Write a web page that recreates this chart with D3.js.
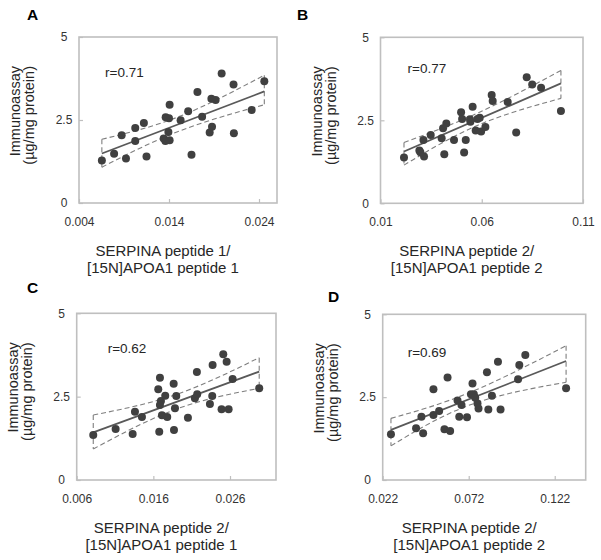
<!DOCTYPE html>
<html>
<head>
<meta charset="utf-8">
<script src="https://cdn.jsdelivr.net/npm/d3@7"></script>
<style>
  html, body { margin: 0; padding: 0; background: #fff; }
  svg { display: block; font-family: "Liberation Sans", Arial, sans-serif; }
</style>
</head>
<body>
<svg id="chart" width="601" height="560"></svg>
<script>
// ---------- data ----------
const panelLetters = ["A", "B", "C", "D"];
const rLabels = ["r=0.71", "r=0.77", "r=0.62", "r=0.69"];
const xTitles1 = ["SERPINA peptide 1/", "SERPINA peptide 2/", "SERPINA peptide 2/", "SERPINA peptide 2/"];
const xTitles2 = ["[15N]APOA1 peptide 1", "[15N]APOA1 peptide 2", "[15N]APOA1 peptide 1", "[15N]APOA1 peptide 2"];
const yTitle1 = "Immunoassay";
const yTitle2 = "(\u00b5g/mg protein)";

const yDomain = [0, 5];
const yTicks = [0, 2.5, 5];
const yTickLabels = ["0", "2.5", "5"];

// Panel A
const aXDomain = [0.004, 0.026];
const aXTicks = [0.004, 0.014, 0.024];
const aXTickLabels = ["0.004", "0.014", "0.024"];
const aX = [0.00654, 0.0079, 0.00922, 0.00874, 0.01025, 0.01025, 0.01121, 0.0115, 0.01341, 0.0136,
            0.01407, 0.01393, 0.01363, 0.0140, 0.01407, 0.01529, 0.01613, 0.0165, 0.01716, 0.01768,
            0.01852, 0.01878, 0.01871, 0.01918, 0.01985, 0.02117, 0.02121, 0.02319, 0.02459];
const aY = [1.28, 1.48, 1.34, 2.04, 1.87, 2.26, 2.41, 1.40, 1.94, 1.87,
            1.89, 2.14, 2.58, 2.55, 2.96, 2.49, 2.76, 1.45, 3.34, 2.60,
            2.12, 2.30, 3.14, 3.10, 3.90, 3.57, 2.10, 2.80, 3.67];
const aFitX = [0.00654, 0.02459];
const aFitY = [1.49, 3.36];
const aBandX = [0.00654, 0.01518, 0.02459];
const aBandUp = [1.92, 2.61, 3.85];
const aBandLo = [1.08, 2.17, 2.96];

// Panel B
const bXDomain = [0.01, 0.11];
const bXTicks = [0.01, 0.06, 0.11];
const bXTickLabels = ["0.01", "0.06", "0.11"];
const bX = [0.0216, 0.0292, 0.0297, 0.0315, 0.0312, 0.0348, 0.0402, 0.0409, 0.0425, 0.0415,
            0.0463, 0.0498, 0.0503, 0.0521, 0.0513, 0.0555, 0.0542, 0.0544, 0.0570, 0.0579,
            0.0590, 0.0597, 0.0618, 0.0649, 0.0654, 0.0728, 0.0770, 0.0822, 0.0849, 0.0893, 0.0991];
const bY = [1.38, 1.59, 1.54, 1.41, 1.91, 2.06, 1.96, 2.26, 2.40, 1.48,
            1.91, 2.74, 2.54, 1.91, 1.53, 2.91, 2.53, 2.46, 2.19, 2.54,
            2.58, 2.16, 2.30, 3.26, 3.08, 3.05, 2.13, 3.80, 3.58, 3.48, 2.78];
const bFitX = [0.0216, 0.0991];
const bFitY = [1.56, 3.61];
const bBandX = [0.0216, 0.0584, 0.0991];
const bBandUp = [1.83, 2.73, 4.00];
const bBandLo = [1.15, 2.36, 3.16];

// Panel C
const cXDomain = [0.006, 0.032];
const cXTicks = [0.006, 0.016, 0.026];
const cXTickLabels = ["0.006", "0.016", "0.026"];
const cX = [0.00816, 0.01108, 0.0133, 0.0136, 0.01451, 0.01686, 0.01664, 0.01699, 0.01686, 0.01755,
            0.01712, 0.01781, 0.01677, 0.01865, 0.01899, 0.01882, 0.01869, 0.02051, 0.02142, 0.02172,
            0.02168, 0.02338, 0.02368, 0.02373, 0.0249, 0.02582, 0.02512, 0.02556, 0.02634, 0.02981];
const cY = [1.35, 1.53, 1.38, 2.05, 1.89, 3.07, 2.72, 2.37, 2.25, 2.53,
            1.94, 1.89, 1.45, 2.89, 2.52, 2.15, 1.50, 1.87, 2.45, 2.57,
            3.24, 2.28, 2.52, 3.45, 2.12, 2.12, 3.77, 3.55, 3.03, 2.75];
const cFitX = [0.00816, 0.02981];
const cFitY = [1.43, 3.25];
const cBandX = [0.00816, 0.01904, 0.02981];
const cBandUp = [1.95, 2.57, 3.67];
const cBandLo = [0.93, 2.13, 2.75];

// Panel D
const dXDomain = [0.022, 0.14];
const dXTicks = [0.022, 0.072, 0.122];
const dXTickLabels = ["0.022", "0.072", "0.122"];
const dX = [0.0268, 0.0414, 0.0445, 0.0455, 0.0515, 0.0515, 0.0548, 0.0579, 0.0612, 0.0597,
            0.0655, 0.0665, 0.0678, 0.0710, 0.0733, 0.0742, 0.0750, 0.0758, 0.0771, 0.0777,
            0.0834, 0.0855, 0.0826, 0.0890, 0.0905, 0.1007, 0.1014, 0.1049, 0.1286];
const dY = [1.38, 1.56, 1.91, 1.41, 1.96, 2.74, 2.08, 1.53, 1.48, 3.09,
            2.40, 1.91, 2.26, 1.89, 2.59, 2.91, 2.59, 2.48, 2.31, 2.16,
            2.13, 2.54, 3.25, 3.57, 2.13, 3.04, 3.47, 3.77, 2.77];
const dFitX = [0.0268, 0.1286];
const dFitY = [1.51, 3.59];
const dBandX = [0.0268, 0.073, 0.1286];
const dBandUp = [1.86, 2.65, 4.05];
const dBandLo = [1.03, 2.27, 2.95];

// ---------- layout (pixels) ----------
const layout = [
  { x0: 79,    x1: 277,   y0: 37,    y1: 203,   letter: [27, 20],  r: [26, 40] },
  { x0: 380.5, x1: 583,   y0: 37.3,  y1: 203.3, letter: [297, 20], r: [27, 36] },
  { x0: 76.7,  x1: 276,   y0: 313.3, y1: 480,   letter: [27, 293], r: [31, 40] },
  { x0: 382.7, x1: 585.7, y0: 314.3, y1: 480,   letter: [328, 302], r: [25, 43] }
];

const panels = [
  { xd: aXDomain, xt: aXTicks, xl: aXTickLabels, xs: aX, ys: aY, fx: aFitX, fy: aFitY, bx: aBandX, bu: aBandUp, bl: aBandLo },
  { xd: bXDomain, xt: bXTicks, xl: bXTickLabels, xs: bX, ys: bY, fx: bFitX, fy: bFitY, bx: bBandX, bu: bBandUp, bl: bBandLo },
  { xd: cXDomain, xt: cXTicks, xl: cXTickLabels, xs: cX, ys: cY, fx: cFitX, fy: cFitY, bx: cBandX, bu: cBandUp, bl: cBandLo },
  { xd: dXDomain, xt: dXTicks, xl: dXTickLabels, xs: dX, ys: dY, fx: dFitX, fy: dFitY, bx: dBandX, bu: dBandUp, bl: dBandLo }
];

const svg = d3.select("#chart");
svg.append("rect").attr("width", 601).attr("height", 560).attr("fill", "#fff");

const textCol = "#262626";
const tickCol = "#333";

panels.forEach((p, i) => {
  const L = layout[i];
  const x = d3.scaleLinear().domain(p.xd).range([L.x0, L.x1]);
  const y = d3.scaleLinear().domain(yDomain).range([L.y1, L.y0]);
  const g = svg.append("g");

  // band (dashed, closed with vertical ends)
  const upPts = p.bx.map((v, k) => [x(v), y(p.bu[k])]);
  const loPts = p.bx.map((v, k) => [x(v), y(p.bl[k])]);
  const curve = d3.line().curve(d3.curveNatural);
  g.append("path").attr("d", curve(upPts))
    .attr("fill", "none").attr("stroke", "#7f7f7f").attr("stroke-width", 1.1).attr("stroke-dasharray", "5,3");
  g.append("path").attr("d", curve(loPts))
    .attr("fill", "none").attr("stroke", "#7f7f7f").attr("stroke-width", 1.1).attr("stroke-dasharray", "5,3");
  [0, p.bx.length - 1].forEach(k => {
    g.append("line")
      .attr("x1", x(p.bx[k])).attr("x2", x(p.bx[k]))
      .attr("y1", y(p.bu[k])).attr("y2", y(p.bl[k]))
      .attr("stroke", "#7f7f7f").attr("stroke-width", 1.1).attr("stroke-dasharray", "5,3");
  });

  // fit line
  g.append("line")
    .attr("x1", x(p.fx[0])).attr("y1", y(p.fy[0]))
    .attr("x2", x(p.fx[1])).attr("y2", y(p.fy[1]))
    .attr("stroke", "#595959").attr("stroke-width", 1.8);

  // points
  g.selectAll("circle.pt").data(p.xs.map((v, k) => [v, p.ys[k]])).enter()
    .append("circle").attr("class", "pt")
    .attr("cx", d => x(d[0])).attr("cy", d => y(d[1])).attr("r", 4)
    .attr("fill", "#404040");

  // axes
  const xAxis = d3.axisBottom(x).tickValues(p.xt).tickSize(-4).tickPadding(14.5)
    .tickFormat((d, k) => p.xl[k]);
  const xg = g.append("g").attr("transform", `translate(0,${L.y1})`).call(xAxis);
  xg.select(".domain").remove();
  xg.selectAll(".tick line").attr("stroke", "#bfbfbf").attr("stroke-width", 1.2);
  xg.selectAll(".tick text").attr("fill", tickCol).style("font-size", "12px")
    .style("font-family", "'Liberation Sans', Arial, sans-serif");

  const yAxis = d3.axisLeft(y).tickValues(yTicks).tickSize(-4).tickPadding(0)
    .tickFormat((d, k) => yTickLabels[k]);
  const yg = g.append("g").attr("transform", `translate(${L.x0},0)`).call(yAxis);
  yg.select(".domain").remove();
  yg.selectAll(".tick line").attr("stroke", "#bfbfbf").attr("stroke-width", 1.2);
  yg.selectAll(".tick text").attr("fill", tickCol).style("font-size", "12px")
    .attr("text-anchor", "middle").attr("x", -15)
    .style("font-family", "'Liberation Sans', Arial, sans-serif");

  // plot box
  g.append("rect").attr("x", L.x0).attr("y", L.y0)
    .attr("width", L.x1 - L.x0).attr("height", L.y1 - L.y0)
    .attr("fill", "none").attr("stroke", "#bfbfbf").attr("stroke-width", 1.6);

  // r label
  g.append("text").attr("x", L.x0 + L.r[0]).attr("y", L.y0 + L.r[1])
    .attr("fill", textCol).style("font-size", "13.5px").text(rLabels[i]);

  // panel letter
  g.append("text").attr("x", L.letter[0]).attr("y", L.letter[1])
    .attr("fill", "#000").style("font-size", "15.5px").style("font-weight", "bold").text(panelLetters[i]);

  // x title
  const cx = (L.x0 + L.x1) / 2 - 15;
  g.append("text").attr("x", cx).attr("y", L.y1 + 53).attr("text-anchor", "middle")
    .attr("fill", textCol).style("font-size", "15px").text(xTitles1[i]);
  g.append("text").attr("x", cx).attr("y", L.y1 + 70).attr("text-anchor", "middle")
    .attr("fill", textCol).style("font-size", "15px").text(xTitles2[i]);

  // y title (rotated, end-anchored near top)
  const ty = L.y0 + 29;
  g.append("text").attr("transform", `translate(${L.x0 - 59},${ty}) rotate(-90)`)
    .attr("text-anchor", "end").attr("fill", textCol).style("font-size", "14.5px").text(yTitle1);
  g.append("text").attr("transform", `translate(${L.x0 - 45},${ty}) rotate(-90)`)
    .attr("text-anchor", "end").attr("fill", textCol).style("font-size", "14.5px").text(yTitle2);
});
</script>
</body>
</html>
